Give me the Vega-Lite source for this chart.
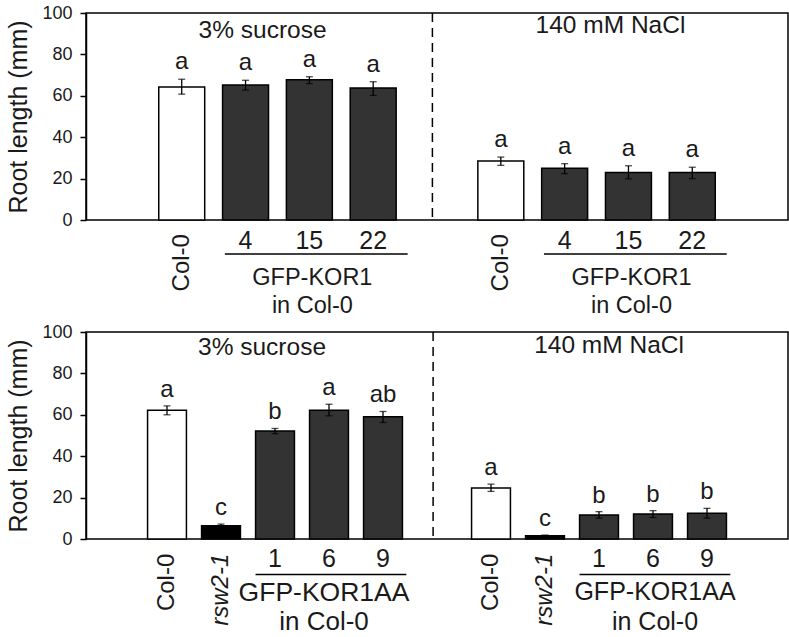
{
  "$schema": "https://vega.github.io/schema/vega-lite/v6.json",
  "padding": {"left": 6, "top": 3, "right": 0, "bottom": 0},
  "bounds": "flush",
  "spacing": 112,
  "datasets": {
    "p1": [
      {"key": "S-Col-0", "type": "col", "mean": 64.3, "lo": 60.8, "hi": 68.0, "letter": "a"},
      {"key": "S-4", "type": "line", "mean": 65.2, "lo": 62.8, "hi": 67.5, "letter": "a"},
      {"key": "S-15", "type": "line", "mean": 67.8, "lo": 65.9, "hi": 69.2, "letter": "a"},
      {"key": "S-22", "type": "line", "mean": 63.8, "lo": 60.2, "hi": 66.8, "letter": "a"},
      {"key": "N-Col-0", "type": "col", "mean": 28.5, "lo": 26.4, "hi": 30.4, "letter": "a"},
      {"key": "N-4", "type": "line", "mean": 25.0, "lo": 22.4, "hi": 27.2, "letter": "a"},
      {"key": "N-15", "type": "line", "mean": 23.0, "lo": 19.9, "hi": 26.2, "letter": "a"},
      {"key": "N-22", "type": "line", "mean": 23.0, "lo": 20.0, "hi": 25.5, "letter": "a"}
    ],
    "p2": [
      {"key": "S-Col-0", "type": "col", "mean": 62.2, "lo": 60.0, "hi": 64.3, "letter": "a"},
      {"key": "S-rsw", "type": "mut", "mean": 6.4, "lo": 5.6, "hi": 7.2, "letter": "c"},
      {"key": "S-1", "type": "line", "mean": 52.2, "lo": 50.9, "hi": 53.4, "letter": "b"},
      {"key": "S-6", "type": "line", "mean": 62.2, "lo": 59.5, "hi": 65.1, "letter": "a"},
      {"key": "S-9", "type": "line", "mean": 59.0, "lo": 56.3, "hi": 61.6, "letter": "ab"},
      {"key": "N-Col-0", "type": "col", "mean": 24.6, "lo": 23.0, "hi": 26.5, "letter": "a"},
      {"key": "N-rsw", "type": "mut", "mean": 1.6, "lo": 1.3, "hi": 1.9, "letter": "c"},
      {"key": "N-1", "type": "line", "mean": 11.6, "lo": 10.1, "hi": 13.2, "letter": "b"},
      {"key": "N-6", "type": "line", "mean": 12.1, "lo": 10.4, "hi": 13.7, "letter": "b"},
      {"key": "N-9", "type": "line", "mean": 12.4, "lo": 10.1, "hi": 14.8, "letter": "b"}
    ]
  },
  "vconcat": [
    {
      "width": 702,
      "height": 207,
      "layer": [
        {
          "data": {"name": "p1"},
          "mark": {"type": "bar", "stroke": "black", "strokeWidth": 1.5},
          "encoding": {
            "x": {"field": "key", "type": "nominal", "axis": null,
                  "scale": {"domain": ["e1", "S-Col-0", "S-4", "S-15", "S-22", "sep", "N-Col-0", "N-4", "N-15", "N-22", "e2"], "paddingInner": 0.28, "paddingOuter": 0.14}},
            "y": {"field": "mean", "type": "quantitative", "title": "Root length (mm)",
                  "scale": {"domain": [0, 100], "nice": false}, "axis": {"values": [0, 20, 40, 60, 80, 100]}},
            "fill": {"field": "type", "type": "nominal", "legend": null,
                     "scale": {"domain": ["col", "line", "mut"], "range": ["#ffffff", "#333333", "#000000"]}}
          }
        },
        {
          "data": {"name": "p1"},
          "mark": {"type": "errorbar", "ticks": {"size": 7}, "thickness": 1.3, "color": "black"},
          "encoding": {
            "x": {"field": "key", "type": "nominal"},
            "y": {"field": "lo", "type": "quantitative", "title": "Root length (mm)"},
            "y2": {"field": "hi"}
          }
        },
        {
          "data": {"name": "p1"},
          "mark": {"type": "text", "baseline": "alphabetic", "dy": -10, "fontSize": 24},
          "encoding": {
            "x": {"field": "key", "type": "nominal"},
            "y": {"field": "hi", "type": "quantitative"},
            "text": {"field": "letter"}
          }
        },
        {
          "data": {"values": [{}]},
          "mark": {"type": "rule", "strokeDash": [9, 6], "strokeWidth": 1.5, "color": "black"},
          "encoding": {"x": {"datum": "sep", "type": "nominal", "bandPosition": 0.4}}
        },
        {
          "data": {"values": [{"label": "3% sucrose"}]},
          "mark": {"type": "text", "dx": 17, "baseline": "middle", "fontSize": 24.5},
          "encoding": {"x": {"datum": "S-4", "type": "nominal"}, "y": {"datum": 91.3, "type": "quantitative"}, "text": {"field": "label"}}
        },
        {
          "data": {"values": [{"label": "140 mM NaCl"}]},
          "mark": {"type": "text", "dx": -18, "baseline": "middle", "fontSize": 24.5},
          "encoding": {"x": {"datum": "N-15", "type": "nominal"}, "y": {"datum": 93.7, "type": "quantitative"}, "text": {"field": "label"}}
        },
        {
          "data": {"values": [{"key": "S-Col-0", "label": "Col-0"}, {"key": "N-Col-0", "label": "Col-0"}]},
          "mark": {"type": "text", "angle": 270, "align": "right", "baseline": "middle", "fontSize": 24},
          "encoding": {"x": {"field": "key", "type": "nominal"}, "y": {"datum": -6.8, "type": "quantitative"}, "text": {"field": "label"}}
        },
        {
          "data": {"values": [{"key": "S-4", "label": "4"}, {"key": "S-15", "label": "15"}, {"key": "S-22", "label": "22"}, {"key": "N-4", "label": "4"}, {"key": "N-15", "label": "15"}, {"key": "N-22", "label": "22"}]},
          "mark": {"type": "text", "baseline": "middle", "fontSize": 25},
          "encoding": {"x": {"field": "key", "type": "nominal"}, "y": {"datum": -10.1, "type": "quantitative"}, "text": {"field": "label"}}
        },
        {
          "data": {"values": [{"a": "S-4", "b": "S-22"}, {"a": "N-4", "b": "N-22"}]},
          "mark": {"type": "rule", "strokeWidth": 1.5, "color": "black"},
          "encoding": {"x": {"field": "a", "type": "nominal", "bandPosition": 0.05}, "x2": {"field": "b", "bandPosition": 1.25}, "y": {"datum": -16.4, "type": "quantitative"}}
        },
        {
          "data": {"values": [{"key": "S-15", "label": "GFP-KOR1"}, {"key": "N-15", "label": "GFP-KOR1"}]},
          "mark": {"type": "text", "baseline": "middle", "fontSize": 23.5, "dx": 3},
          "encoding": {"x": {"field": "key", "type": "nominal"}, "y": {"datum": -28.0, "type": "quantitative"}, "text": {"field": "label"}}
        },
        {
          "data": {"values": [{"key": "S-15", "label": "in Col-0"}, {"key": "N-15", "label": "in Col-0"}]},
          "mark": {"type": "text", "baseline": "middle", "fontSize": 23.5, "dx": 3},
          "encoding": {"x": {"field": "key", "type": "nominal"}, "y": {"datum": -41.5, "type": "quantitative"}, "text": {"field": "label"}}
        }
      ]
    },
    {
      "width": 702,
      "height": 207,
      "layer": [
        {
          "data": {"name": "p2"},
          "mark": {"type": "bar", "stroke": "black", "strokeWidth": 1.5},
          "encoding": {
            "x": {"field": "key", "type": "nominal", "axis": null,
                  "scale": {"domain": ["e1", "S-Col-0", "S-rsw", "S-1", "S-6", "S-9", "sep", "N-Col-0", "N-rsw", "N-1", "N-6", "N-9", "e2"], "paddingInner": 0.28, "paddingOuter": 0.14}},
            "y": {"field": "mean", "type": "quantitative", "title": "Root length (mm)",
                  "scale": {"domain": [0, 100], "nice": false}, "axis": {"values": [0, 20, 40, 60, 80, 100]}},
            "fill": {"field": "type", "type": "nominal", "legend": null,
                     "scale": {"domain": ["col", "line", "mut"], "range": ["#ffffff", "#333333", "#000000"]}}
          }
        },
        {
          "data": {"name": "p2"},
          "mark": {"type": "errorbar", "ticks": {"size": 7}, "thickness": 1.3, "color": "black"},
          "encoding": {
            "x": {"field": "key", "type": "nominal"},
            "y": {"field": "lo", "type": "quantitative", "title": "Root length (mm)"},
            "y2": {"field": "hi"}
          }
        },
        {
          "data": {"name": "p2"},
          "mark": {"type": "text", "baseline": "alphabetic", "dy": -9, "fontSize": 24},
          "encoding": {
            "x": {"field": "key", "type": "nominal"},
            "y": {"field": "hi", "type": "quantitative"},
            "text": {"field": "letter"}
          }
        },
        {
          "data": {"values": [{}]},
          "mark": {"type": "rule", "strokeDash": [9, 6], "strokeWidth": 1.5, "color": "black"},
          "encoding": {"x": {"datum": "sep", "type": "nominal", "bandPosition": 0.4}}
        },
        {
          "data": {"values": [{"label": "3% sucrose"}]},
          "mark": {"type": "text", "dx": -13, "baseline": "middle", "fontSize": 24.5},
          "encoding": {"x": {"datum": "S-1", "type": "nominal"}, "y": {"datum": 92.4, "type": "quantitative"}, "text": {"field": "label"}}
        },
        {
          "data": {"values": [{"label": "140 mM NaCl"}]},
          "mark": {"type": "text", "dx": 10, "baseline": "middle", "fontSize": 24.5},
          "encoding": {"x": {"datum": "N-1", "type": "nominal"}, "y": {"datum": 93.2, "type": "quantitative"}, "text": {"field": "label"}}
        },
        {
          "data": {"values": [{"key": "S-Col-0", "label": "Col-0"}, {"key": "N-Col-0", "label": "Col-0"}]},
          "mark": {"type": "text", "angle": 270, "align": "right", "baseline": "middle", "fontSize": 24},
          "encoding": {"x": {"field": "key", "type": "nominal"}, "y": {"datum": -7.1, "type": "quantitative"}, "text": {"field": "label"}}
        },
        {
          "data": {"values": [{"key": "S-rsw", "label": "rsw2-1"}, {"key": "N-rsw", "label": "rsw2-1"}]},
          "mark": {"type": "text", "angle": 270, "align": "right", "baseline": "middle", "fontSize": 24, "fontStyle": "italic"},
          "encoding": {"x": {"field": "key", "type": "nominal"}, "y": {"datum": -7.1, "type": "quantitative"}, "text": {"field": "label"}}
        },
        {
          "data": {"values": [{"key": "S-1", "label": "1"}, {"key": "S-6", "label": "6"}, {"key": "S-9", "label": "9"}, {"key": "N-1", "label": "1"}, {"key": "N-6", "label": "6"}, {"key": "N-9", "label": "9"}]},
          "mark": {"type": "text", "baseline": "middle", "fontSize": 25},
          "encoding": {"x": {"field": "key", "type": "nominal"}, "y": {"datum": -9.8, "type": "quantitative"}, "text": {"field": "label"}}
        },
        {
          "data": {"values": [{"a": "S-1", "b": "S-9"}, {"a": "N-1", "b": "N-9"}]},
          "mark": {"type": "rule", "strokeWidth": 1.5, "color": "black"},
          "encoding": {"x": {"field": "a", "type": "nominal", "bandPosition": 0.0}, "x2": {"field": "b", "bandPosition": 1.1}, "y": {"datum": -17.2, "type": "quantitative"}}
        },
        {
          "data": {"values": [{"key": "S-6", "label": "GFP-KOR1AA"}]},
          "mark": {"type": "text", "baseline": "middle", "fontSize": 26.5, "dx": -5},
          "encoding": {"x": {"field": "key", "type": "nominal"}, "y": {"datum": -26.0, "type": "quantitative"}, "text": {"field": "label"}}
        },
        {
          "data": {"values": [{"key": "S-6", "label": "in Col-0"}]},
          "mark": {"type": "text", "baseline": "middle", "fontSize": 26, "dx": -5},
          "encoding": {"x": {"field": "key", "type": "nominal"}, "y": {"datum": -40.3, "type": "quantitative"}, "text": {"field": "label"}}
        },
        {
          "data": {"values": [{"key": "N-6", "label": "GFP-KOR1AA"}]},
          "mark": {"type": "text", "baseline": "middle", "fontSize": 25, "dx": 2},
          "encoding": {"x": {"field": "key", "type": "nominal"}, "y": {"datum": -25.5, "type": "quantitative"}, "text": {"field": "label"}}
        },
        {
          "data": {"values": [{"key": "N-6", "label": "in Col-0"}]},
          "mark": {"type": "text", "baseline": "middle", "fontSize": 25, "dx": 2},
          "encoding": {"x": {"field": "key", "type": "nominal"}, "y": {"datum": -40.0, "type": "quantitative"}, "text": {"field": "label"}}
        }
      ]
    }
  ],
  "config": {
    "font": "Liberation Sans",
    "view": {"stroke": "black", "strokeWidth": 1.5},
    "text": {"color": "#1a1a1a", "font": "Liberation Sans"},
    "axisY": {
      "grid": false,
      "domainColor": "black",
      "domainWidth": 1.5,
      "tickColor": "black",
      "tickWidth": 1.5,
      "tickSize": 6,
      "labelFont": "Liberation Sans",
      "labelFontSize": 18,
      "labelColor": "#1a1a1a",
      "labelPadding": 8,
      "titleFont": "Liberation Sans",
      "titleFontSize": 25,
      "titleFontWeight": "normal",
      "titleColor": "#1a1a1a",
      "titlePadding": 10
    }
  }
}
